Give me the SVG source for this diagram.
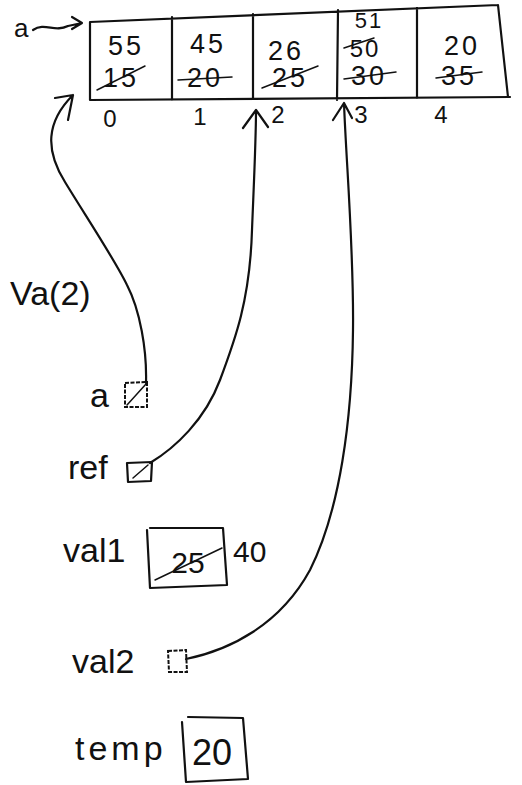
<svg xmlns="http://www.w3.org/2000/svg" width="522" height="785" viewBox="0 0 522 785">
<style>
.ln{fill:none;stroke:#111;stroke-width:2.2;stroke-linecap:round;stroke-linejoin:round}
.thin{fill:none;stroke:#111;stroke-width:1.5;stroke-linecap:round}
.dash{fill:none;stroke:#111;stroke-width:2;stroke-dasharray:4 1.5}
.t{font-family:"Liberation Sans","DejaVu Sans",sans-serif;fill:#111}
.c{font-size:27px;text-anchor:middle;letter-spacing:3px}
.i{font-size:24px;text-anchor:middle}
.v{font-size:34px}
</style>
<rect width="522" height="785" fill="#fff"/>
<g id="array">
  <path class="ln" d="M90,22 L498,5 M90,22 L90,100 L510,97 M498,5 L508,97 M172,17 L172,100 M253,14 L253,99 M338,10 L337,100 M417,8 L417,98"/>
  <g id="cell0">
    <text class="t c" x="126" y="55">55</text>
    <text class="t c" x="121" y="87">15</text>
    <path class="thin" d="M97,90 L145,66"/>
  </g>
  <g id="cell1">
    <text class="t c" x="208" y="53">45</text>
    <text class="t c" x="205" y="87">20</text>
    <path class="thin" d="M178,80 L232,77"/>
  </g>
  <g id="cell2">
    <text class="t c" x="286" y="60">26</text>
    <text class="t c" x="290" y="87">25</text>
    <path class="thin" d="M262,88 L318,66"/>
  </g>
  <g id="cell3">
    <text class="t" x="369" y="28" font-size="22" text-anchor="middle" letter-spacing="2">51</text>
    <text class="t" x="365" y="57" font-size="24" text-anchor="middle" letter-spacing="2">50</text>
    <path class="thin" d="M344,48 L374,38"/>
    <text class="t c" x="369" y="85">30</text>
    <path class="thin" d="M344,79 L396,72"/>
  </g>
  <g id="cell4">
    <text class="t c" x="462" y="55">20</text>
    <text class="t c" x="459" y="85">35</text>
    <path class="thin" d="M436,78 L482,72"/>
  </g>
  <g id="indices">
    <text class="t i" x="110" y="127">0</text>
    <text class="t i" x="200" y="125">1</text>
    <text class="t i" x="278" y="123">2</text>
    <text class="t i" x="361" y="123">3</text>
    <text class="t i" x="441" y="123">4</text>
  </g>
</g>
<g id="label-a-top">
  <text class="t" x="14" y="37" font-size="26">a</text>
</g>
<g id="call">
  <text class="t v" x="10" y="305">Va(2)</text>
</g>
<g id="var-a">
  <text class="t v" x="90" y="407">a</text>
  <path class="dash" d="M125,383 L147,382 L147,407 L125,407 Z"/>
  <path class="thin" d="M127,405 L146,384"/>
</g>
<g id="var-ref">
  <text class="t v" x="68" y="479">ref</text>
  <path class="ln" d="M127,463 L152,462 L151,481 L128,482 Z"/>
  <path class="thin" d="M133,478 L148,465"/>
</g>
<g id="var-val1">
  <text class="t v" x="63" y="562">val1</text>
  <path class="ln" d="M147,530 L150,588 L227,585 L223,528 L150,528"/>
  <text class="t" x="188" y="573" font-size="30" text-anchor="middle">25</text>
  <path class="thin" d="M155,580 L222,548"/>
  <text class="t" x="233" y="562" font-size="30">40</text>
</g>
<g id="var-val2">
  <text class="t v" x="72" y="673">val2</text>
  <path class="dash" d="M168,651 L186,650 L187,672 L169,672 Z"/>
</g>
<g id="var-temp">
  <text class="t v" x="75" y="760" letter-spacing="4">temp</text>
  <path class="ln" d="M182,722 L186,782 L248,779 L243,718 L188,717"/>
  <text class="t" x="212" y="765" font-size="36" text-anchor="middle">20</text>
</g>
<g id="connectors">
  <path class="ln" d="M33,30 C45,22 55,33 68,26 L82,23 M72,17 L82,23 L72,29"/>
  <path class="ln" d="M146,383 C147,350 140,310 127,285 C115,260 85,215 65,182 C45,150 46,122 73,95 M55,98 L73,95 L68,120"/>
  <path class="ln" d="M150,463 C175,448 205,420 220,380 C235,340 250,300 252,230 C254,180 256,140 256,110 M243,128 L256,110 L268,127"/>
  <path class="ln" d="M186,659 C230,650 280,625 310,570 C340,510 352,420 353,330 C354,250 346,160 344,103 M333,120 L344,103 L352,118"/>
</g>
</svg>
